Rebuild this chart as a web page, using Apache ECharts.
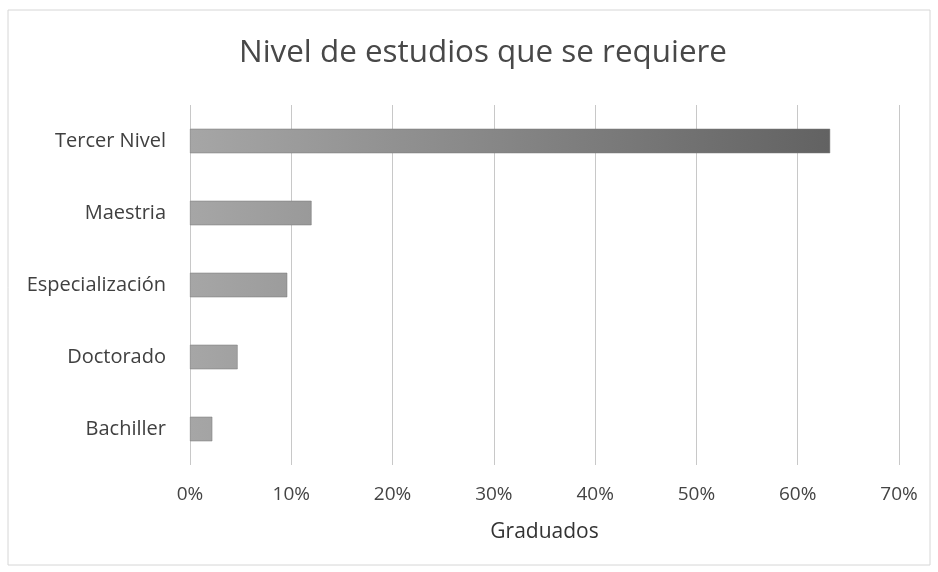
<!DOCTYPE html>
<html>
<head>
<meta charset="utf-8">
<script src="https://cdn.jsdelivr.net/npm/echarts@6/dist/echarts.min.js"></script>
<style>
  html, body { margin: 0; padding: 0; background: #ffffff; }
  #chart { width: 938px; height: 572px; }
</style>
</head>
<body>
<div id="chart"></div>
<script>
// Education levels (bottom to top on the category axis)
const categories = ['Bachiller', 'Doctorado', 'Especialización', 'Maestria', 'Tercer Nivel'];
// Share of graduates, in percent
const graduados = [2.2, 4.7, 9.6, 12.0, 63.2];
// Value axis
const axisMin = 0;
const axisMax = 70;
const axisStep = 10;

const chart = echarts.init(document.getElementById('chart'));

// One shared gradient across all bars: lighter on the left, darker to the right
const barFill = new echarts.graphic.LinearGradient(190, 0, 830, 0, [
  { offset: 0, color: '#a6a6a6' },
  { offset: 0.5, color: '#858585' },
  { offset: 1, color: '#626262' }
], true);

chart.setOption({
  backgroundColor: '#ffffff',
  animation: false,
  title: {
    text: 'Nivel de estudios que se requiere',
    left: 234,
    top: 33,
    textStyle: {
      fontFamily: 'Open Sans',
      fontSize: 31.4,
      fontWeight: 'normal',
      color: '#484848'
    }
  },
  graphic: [{
    type: 'rect',
    shape: { x: 8, y: 10, width: 922, height: 555 },
    style: { fill: 'none', stroke: '#d6d6d6', lineWidth: 1 },
    silent: true
  }],
  grid: {
    left: 190,
    right: 39,
    top: 105,
    bottom: 107,
    containLabel: false
  },
  xAxis: {
    type: 'value',
    min: axisMin,
    max: axisMax,
    interval: axisStep,
    name: 'Graduados',
    nameLocation: 'middle',
    nameGap: 57,
    nameTextStyle: {
      fontFamily: 'Open Sans',
      fontSize: 21,
      color: '#333333'
    },
    axisLine: { show: false },
    axisTick: { show: false },
    axisLabel: {
      formatter: v => v + '%',
      margin: 20,
      fontFamily: 'Open Sans',
      fontSize: 19,
      color: '#444444'
    },
    splitLine: { lineStyle: { color: '#c8c8c8', width: 1 } }
  },
  yAxis: {
    type: 'category',
    data: categories,
    axisLine: { show: false },
    axisTick: { show: false },
    axisLabel: {
      margin: 24,
      fontFamily: 'Open Sans',
      fontSize: 20,
      color: '#404040'
    }
  },
  series: [{
    type: 'bar',
    data: graduados,
    barWidth: '34%',
    itemStyle: {
      color: barFill,
      borderColor: '#777777',
      borderWidth: 0.5
    }
  }]
});
</script>
</body>
</html>
